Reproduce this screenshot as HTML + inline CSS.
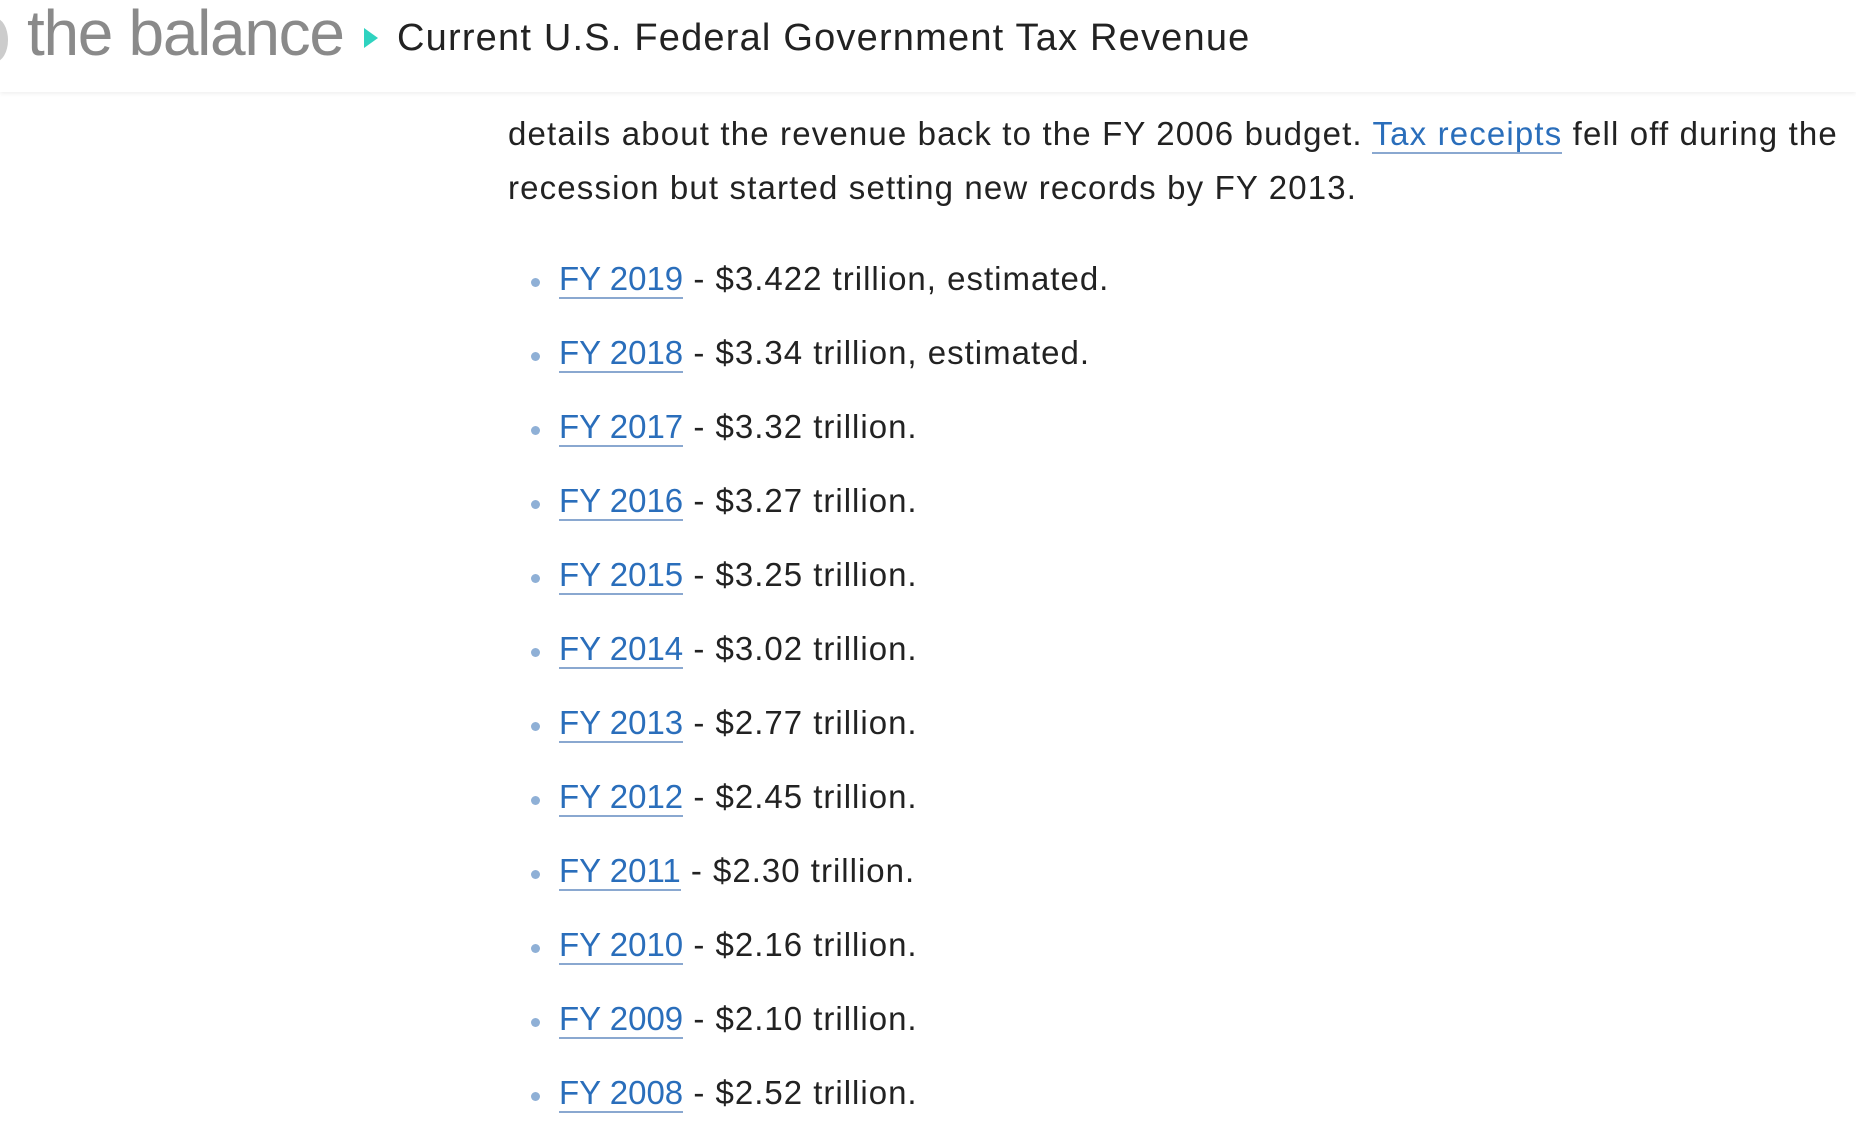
<!DOCTYPE html>
<html><head><meta charset="utf-8"><style>
body{margin:0;width:1856px;height:1138px;overflow:hidden;background:#fff;font-family:"Liberation Sans",sans-serif;color:#222;position:relative}
.hdr{position:absolute;left:0;top:0;width:1856px;height:92px;background:#fff;box-shadow:0 2px 4px rgba(0,0,0,0.06)}
.logo{position:absolute;left:27px;top:-4px;font-size:64px;color:#8a8a8a;letter-spacing:-1.3px}
.tri{position:absolute;left:364px;top:28px;width:0;height:0;border-left:14px solid #2fd3c0;border-top:10px solid transparent;border-bottom:10px solid transparent}
.title{position:absolute;left:397px;top:17px;font-size:38px;color:#222;letter-spacing:1.2px}
.circ{position:absolute;left:-18px;top:18px;width:26px;height:44px;border-radius:50%;background:#ccc}
p{position:absolute;left:508px;top:107px;margin:0;font-size:33px;line-height:54px;width:1360px;letter-spacing:1.15px}
a{color:#2a6ebb;text-decoration:none;border-bottom:2px solid #8aa8d0;letter-spacing:0}
ul{position:absolute;left:508px;top:256px;margin:0;padding:0;list-style:none}
li{position:relative;font-size:33px;height:74px;line-height:46px;padding-left:51px;white-space:nowrap;letter-spacing:1px}
li:before{content:"";position:absolute;left:23px;top:22px;width:9px;height:9px;border-radius:50%;background:#8fb0d6}
</style></head><body>
<div class="hdr">
<div class="circ"></div>
<div class="logo">the balance</div>
<div class="tri"></div>
<div class="title">Current U.S. Federal Government Tax Revenue</div>
</div>
<p>details about the revenue back to the FY 2006 budget. <a href="#" style="letter-spacing:1.15px">Tax receipts</a> fell off during the<br>recession but started setting new records by FY 2013.</p>
<ul>
<li><a href="#">FY 2019</a> - $3.422 trillion, estimated.</li>
<li><a href="#">FY 2018</a> - $3.34 trillion, estimated.</li>
<li><a href="#">FY 2017</a> - $3.32 trillion.</li>
<li><a href="#">FY 2016</a> - $3.27 trillion.</li>
<li><a href="#">FY 2015</a> - $3.25 trillion.</li>
<li><a href="#">FY 2014</a> - $3.02 trillion.</li>
<li><a href="#">FY 2013</a> - $2.77 trillion.</li>
<li><a href="#">FY 2012</a> - $2.45 trillion.</li>
<li><a href="#">FY 2011</a> - $2.30 trillion.</li>
<li><a href="#">FY 2010</a> - $2.16 trillion.</li>
<li><a href="#">FY 2009</a> - $2.10 trillion.</li>
<li><a href="#">FY 2008</a> - $2.52 trillion.</li>
</ul>
</body></html>
